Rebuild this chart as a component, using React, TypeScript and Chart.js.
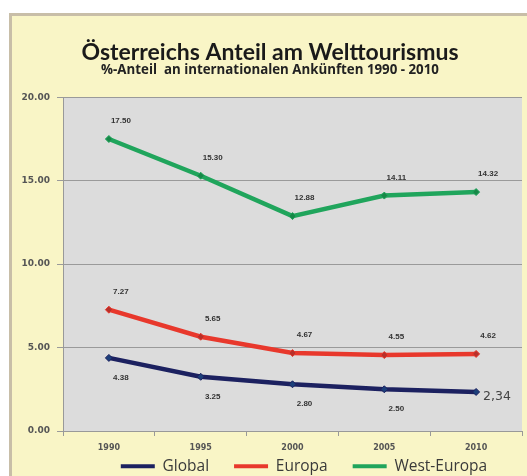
import React, { useEffect, useRef } from "react";
import { Chart, registerables } from "chart.js";
Chart.register(...registerables);

const years = ["1990", "1995", "2000", "2005", "2010"];
const globalValues = [4.38, 3.25, 2.8, 2.5, 2.34];
const europaValues = [7.27, 5.65, 4.67, 4.55, 4.62];
const westEuropaValues = [17.5, 15.3, 12.88, 14.11, 14.32];
const seriesNames = ["Global", "Europa", "West-Europa"];
const yMin = 0;
const yMax = 20;
const yStep = 5;
const titleText = "Österreichs Anteil am Welttourismus";
const subtitleText = "%-Anteil  an internationalen Ankünften 1990 - 2010";

const CANVAS_H = 520;

const bgPlugin = {
  id: "plotBg",
  beforeDraw(chart: any) {
    const { ctx, chartArea } = chart;
    ctx.save();
    ctx.fillStyle = "#dcdcdc";
    ctx.fillRect(chartArea.left, chartArea.top, chartArea.right - chartArea.left, chartArea.bottom - chartArea.top);
    ctx.restore();
  },
};

// move the legend to where the reference has it
const legendShift = {
  id: "legendShift",
  afterLayout(chart: any) {
    const lg = chart.legend;
    if (lg) {
      lg.left += 34;
      lg.right += 34;
      lg.top -= 21.5;
      lg.bottom -= 21.5;
    }
  },
};

// label placement per dataset: above or below the point
const labelBelow = [true, false, false];

const labelPlugin = {
  id: "valueLabels",
  afterDatasetsDraw(chart: any) {
    const ctx = chart.ctx;
    chart.data.datasets.forEach((ds: any, di: number) => {
      const meta = chart.getDatasetMeta(di);
      meta.data.forEach((pt: any, i: number) => {
        const v = ds.data[i] as number;
        ctx.save();
        if (di === 0 && i === meta.data.length - 1) {
          ctx.font = "12.5px 'DejaVu Sans'";
          ctx.fillStyle = "#444";
          ctx.textAlign = "left";
          ctx.textBaseline = "middle";
          ctx.fillText(v.toFixed(2).replace(".", ","), pt.x + 7, pt.y + 5);
        } else {
          ctx.font = "bold 8px 'Liberation Sans'";
          ctx.fillStyle = "#333";
          ctx.textAlign = "center";
          ctx.textBaseline = "middle";
          const dy = labelBelow[di] ? 20 : -18;
          ctx.fillText(v.toFixed(2), pt.x + 12, pt.y + dy);
        }
        ctx.restore();
      });
    });
  },
};

export default function App() {
  const ref = useRef<HTMLCanvasElement>(null);
  useEffect(() => {
    if (!ref.current) return;
    const mk = (i: number, data: number[], line: string, fill: string) => ({
      label: seriesNames[i],
      data,
      borderColor: line,
      backgroundColor: fill,
      borderWidth: 4.5,
      pointStyle: "rectRot",
      pointRadius: 3.5,
      pointBorderWidth: 1,
      tension: 0,
    });
    const chart = new Chart(ref.current, {
      type: "line",
      data: {
        labels: years,
        datasets: [
          mk(0, globalValues, "#1c2160", "#1c3f7a"),
          mk(1, europaValues, "#e8382c", "#b8302a"),
          mk(2, westEuropaValues, "#20a55c", "#178848"),
        ],
      },
      options: {
        responsive: false,
        animation: false,
        devicePixelRatio: 1,
        layout: { padding: { left: 16, right: 3, top: 0, bottom: 14.5 } },
        plugins: {
          title: {
            display: true,
            text: titleText,
            color: "#1a1a1a",
            font: { family: "Lato", size: 23, weight: "bold", lineHeight: 1 },
            padding: { top: 41, bottom: 0 },
          },
          subtitle: {
            display: true,
            text: subtitleText,
            color: "#222",
            font: { family: "Open Sans", size: 13.3, weight: "bold", lineHeight: 1 },
            padding: { top: 0, bottom: 20 },
          },
          legend: {
            position: "bottom",
            labels: {
              usePointStyle: true,
              pointStyle: "line",
              pointStyleWidth: 34,
              boxHeight: 14,
              padding: 25,
              color: "#3a3a3a",
              font: { family: "Open Sans", size: 15.5 },
              generateLabels: (c: any) =>
                (Chart as any).defaults.plugins.legend.labels
                  .generateLabels(c)
                  .map((l: any) => ({ ...l, lineWidth: 4 })),
            },
          },
          tooltip: { enabled: false },
        },
        scales: {
          x: {
            type: "category",
            offset: true,
            grid: { offset: true, drawOnChartArea: false, drawTicks: true, tickLength: 5, color: "#999" },
            border: { color: "#999" },
            ticks: { color: "#555", font: { family: "DejaVu Sans", size: 8, weight: "bold" }, padding: 7 },
            afterFit: (s: any) => { s.height = 24; },
          },
          y: {
            min: yMin,
            max: yMax,
            ticks: {
              stepSize: yStep,
              color: "#555",
              font: { family: "DejaVu Sans", size: 9, weight: "bold" },
              padding: 7,
              callback: (v: any) => Number(v).toFixed(2),
            },
            grid: { color: "#9a9a9a", tickLength: 6 },
            border: { color: "#999" },
            afterFit: (s: any) => { s.width = 47; },
          },
        },
      },
      plugins: [bgPlugin, labelPlugin, legendShift],
    });
    return () => chart.destroy();
  }, []);

  return (
    <div style={{ position: "absolute", left: 0, top: 0, width: 527, height: 476, background: "#fff", overflow: "hidden" }}>
      <div
        style={{
          position: "absolute",
          left: 9,
          top: 13,
          width: 518,
          height: 463,
          background: "#f9f5c6",
          borderLeft: "3px solid #c8bea8",
          borderTop: "3px solid #c8bea8",
          boxSizing: "border-box",
        }}
      />
      <canvas ref={ref} width={527} height={CANVAS_H} style={{ position: "absolute", left: 0, top: 0, width: 527, height: CANVAS_H }} />
    </div>
  );
}
